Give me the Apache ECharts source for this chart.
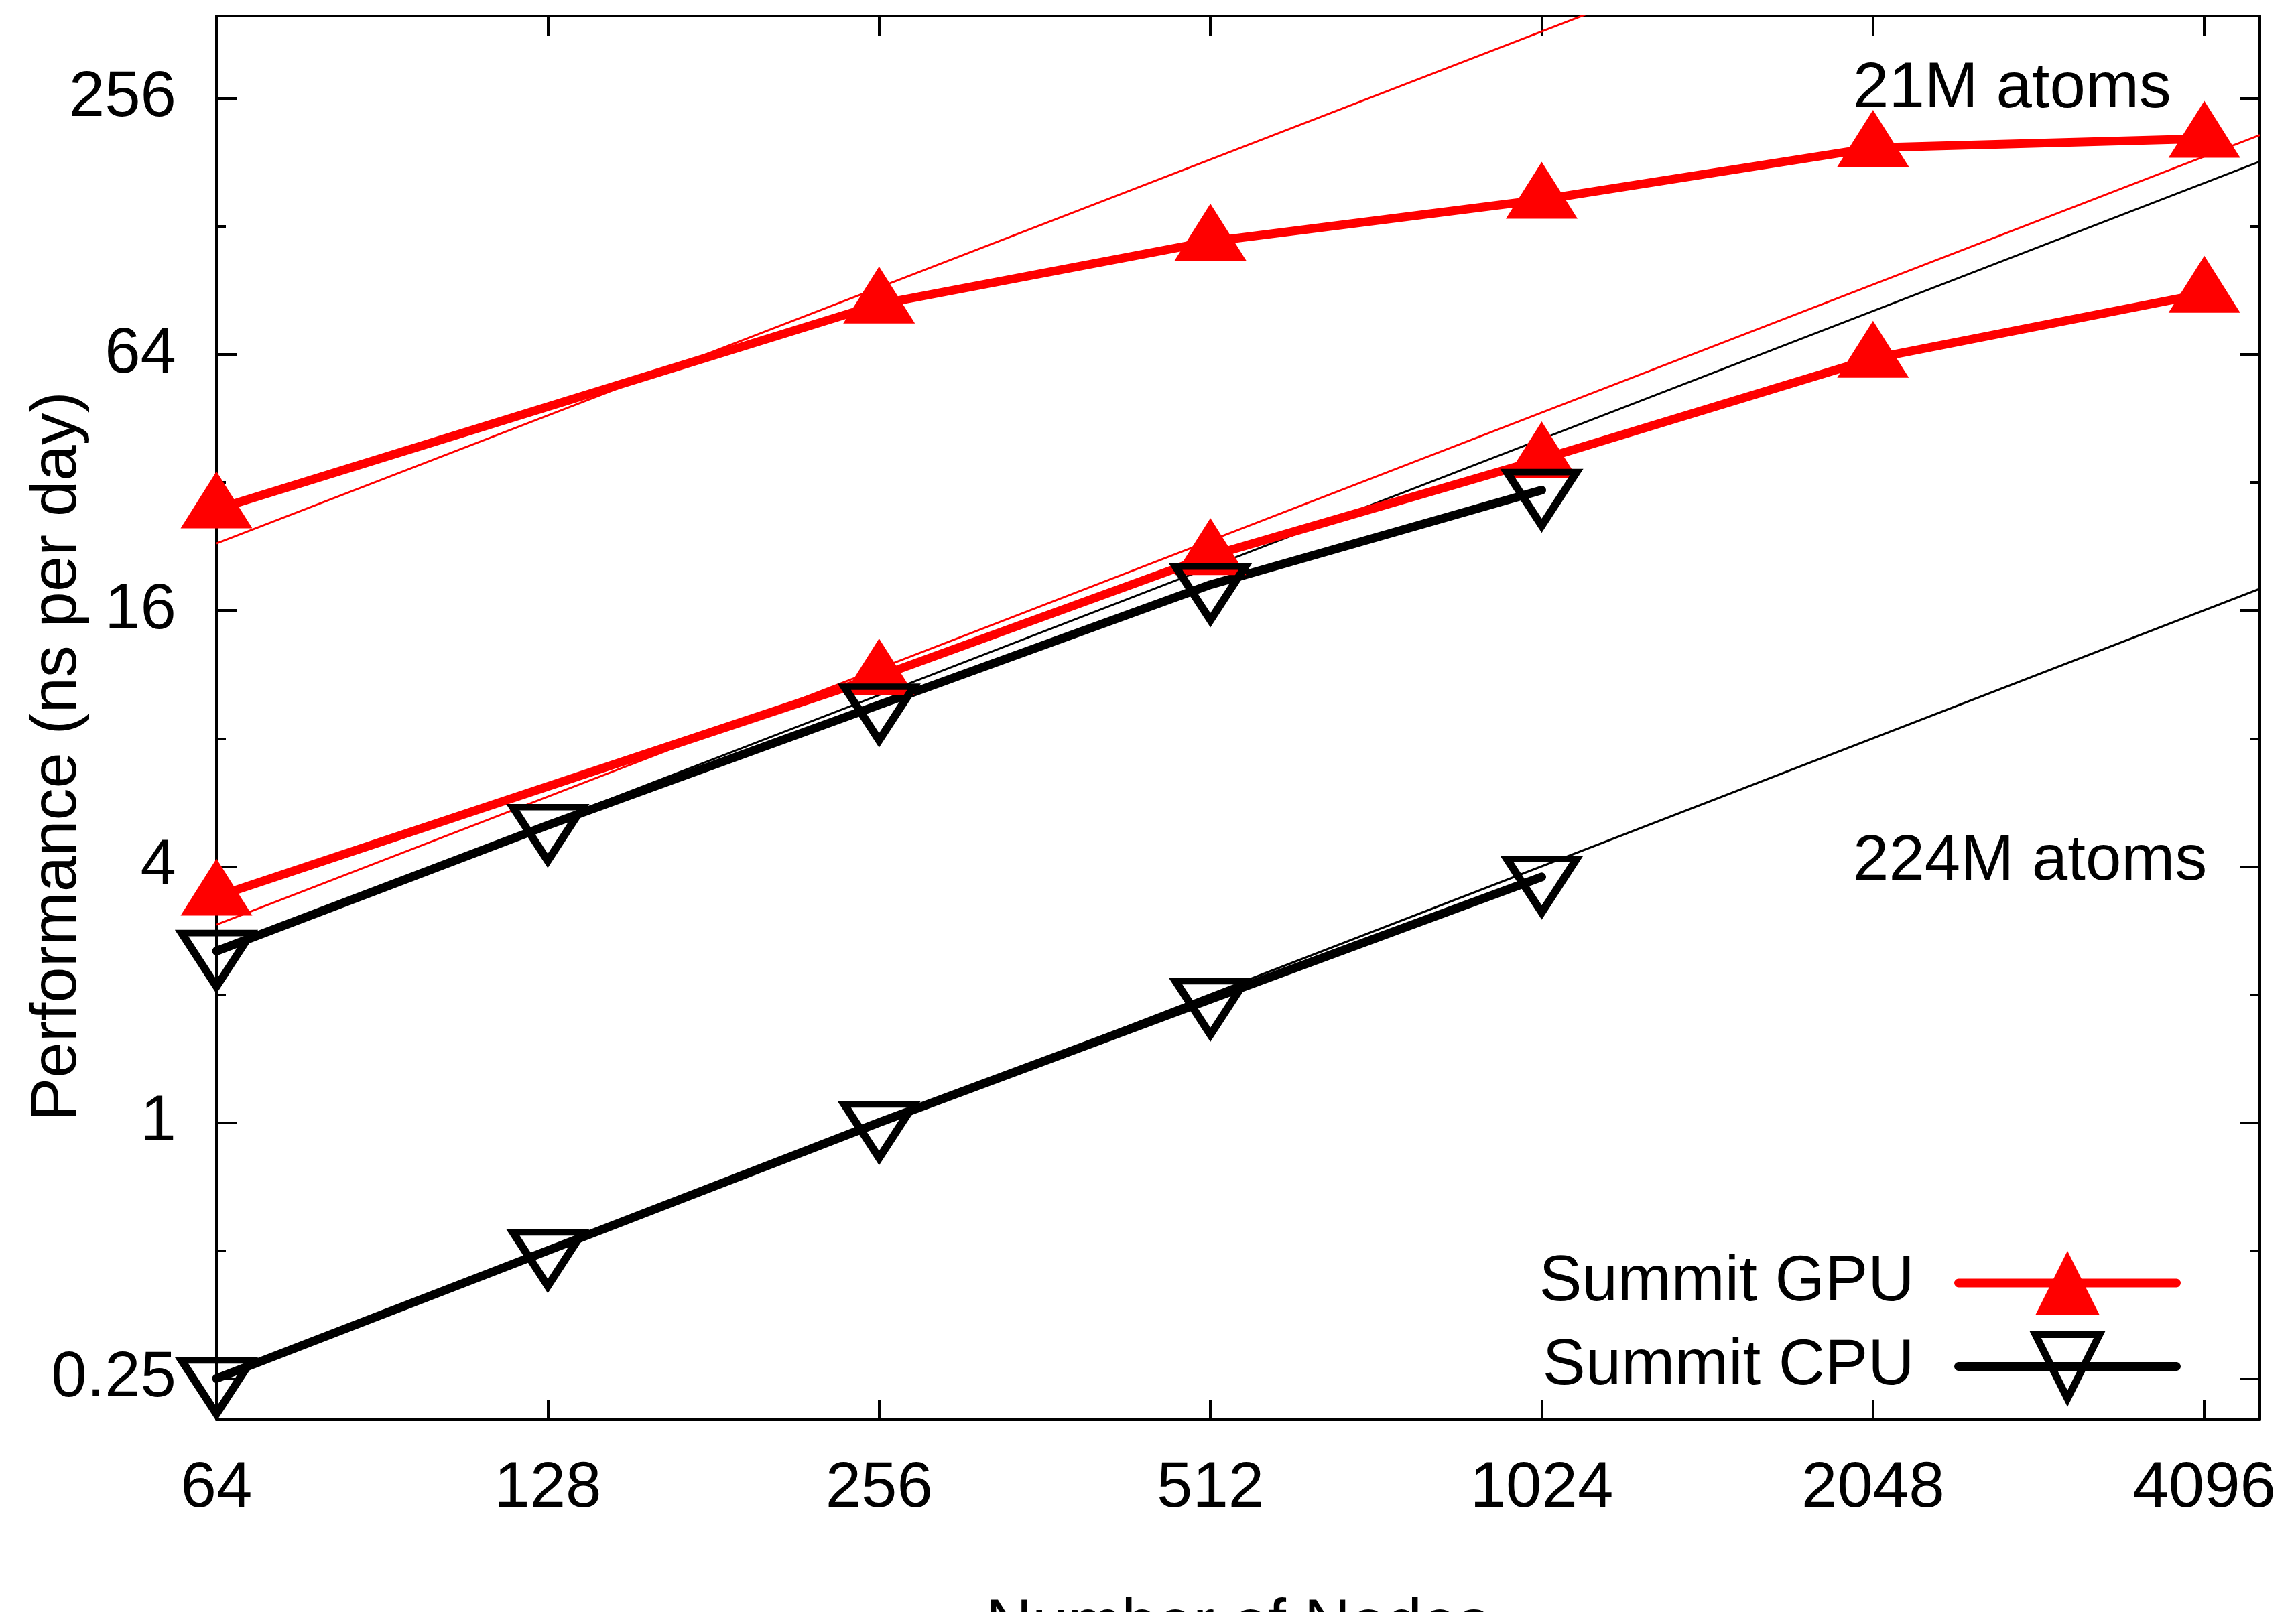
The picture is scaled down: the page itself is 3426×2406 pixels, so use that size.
<!DOCTYPE html>
<html><head><meta charset="utf-8">
<script src="https://cdn.jsdelivr.net/npm/echarts@6/dist/echarts.min.js"></script>
<style>html,body{margin:0;padding:0;background:#fff}#c{width:3426px;height:2406px}</style>
</head><body><div id="c"></div>
<script>
// ---- data ----
const nodeTicks = [64, 128, 256, 512, 1024, 2048, 4096];
const perfTicks = [0.25, 1, 4, 16, 64, 256];
const perfMinorTicks = [0.5, 2, 8, 32, 128];

const gpuNodes = [64, 256, 512, 1024, 2048, 4096];
const gpu21M  = [27.7, 84, 118, 148, 196, 206];
const gpu224M = [3.4, 11.2, 21.5, 36.3, 62.6, 89];

const cpuNodes = [64, 128, 256, 512, 1024];
const cpu21M  = [2.53, 5.0, 9.6, 18.4, 30.7];
const cpu224M = [0.25, 0.5, 1.0, 1.95, 3.78];

// thin ideal-scaling reference lines: value at left edge (64) and right edge (4600)
const idealNodes = [64, 4600];
const idealGpu21M  = [23, 1653];
const idealGpu224M = [2.92, 210];
const idealCpu21M  = [2.53, 182];
const idealCpu224M = [0.25, 18];

const annotations = ['21M atoms', '224M atoms'];
const legendNames = ['Summit GPU', 'Summit CPU'];
const xTitle = 'Number of Nodes';
const yTitle = 'Performance (ns per day)';

// ---- chart ----
const FONT = '"Liberation Sans", Arial, Helvetica, sans-serif';
const RED = '#ff0000', BLACK = '#000000';
const pair = (xs, ys) => xs.map((x, i) => [x, ys[i]]);

function xAx(pos, main) {
  return {
    type: 'log', logBase: 2, min: 64, max: 4600, position: pos,
    axisLine: {show: true, onZero: false, lineStyle: {color: BLACK, width: 4}},
    axisTick: {show: true, inside: true, length: 30, lineStyle: {color: BLACK, width: 4}, customValues: nodeTicks},
    axisLabel: {show: main, customValues: nodeTicks, formatter: v => String(v), fontSize: 96, fontFamily: FONT, color: BLACK, margin: 56},
    splitLine: {show: false}, minorTick: {show: false}, minorSplitLine: {show: false}
  };
}
function yAx(pos, ticks, len, main, showLine) {
  return {
    type: 'log', logBase: 2, min: 0.2, max: 400, position: pos,
    axisLine: {show: showLine, onZero: false, lineStyle: {color: BLACK, width: 4}},
    axisTick: {show: true, inside: true, length: len, lineStyle: {color: BLACK, width: 4}, customValues: ticks},
    axisLabel: {show: main, customValues: ticks, formatter: v => String(v), fontSize: 96, fontFamily: FONT, color: BLACK, margin: 60},
    splitLine: {show: false}, minorTick: {show: false}, minorSplitLine: {show: false},
    name: main ? yTitle : '', nameLocation: 'middle', nameGap: 188, nameRotate: 90, nameMoveOverlap: false,
    nameTextStyle: {fontSize: 96, fontFamily: FONT, color: BLACK, padding: [0, 114, 0, 0]}
  };
}
function thin(name, ys, color) {
  return {type: 'line', name, data: pair(idealNodes, ys), symbol: 'none', showSymbol: false,
    lineStyle: {color, width: 3}, z: 1, clip: true, silent: true};
}
function gpu(ys) {
  return {type: 'line', name: legendNames[0], data: pair(gpuNodes, ys),
    symbol: 'triangle', symbolSize: [107, 85], symbolOffset: [0, -14], showSymbol: true,
    itemStyle: {color: RED},
    lineStyle: {color: RED, width: 13, cap: 'round', join: 'round'}, z: 2, clip: false};
}
function cpu(ys) {
  return {type: 'line', name: legendNames[1], data: pair(cpuNodes, ys),
    symbol: 'triangle', symbolRotate: 180, symbolSize: [104, 80], symbolOffset: [0, 13], showSymbol: true,
    itemStyle: {color: 'rgba(0,0,0,0)', borderColor: BLACK, borderWidth: 11, borderJoin: 'miter'},
    lineStyle: {color: BLACK, width: 13, cap: 'round', join: 'round'}, z: 2, clip: false};
}

const chart = echarts.init(document.getElementById('c'), null, {renderer: 'canvas'});
chart.setOption({
  animation: false,
  backgroundColor: '#ffffff',
  grid: {left: 323, right: 54, top: 24, bottom: 287, containLabel: false, outerBoundsMode: 'none'},
  xAxis: [xAx('bottom', true), xAx('top', false)],
  yAxis: [
    yAx('left', perfTicks, 30, true, true),
    yAx('left', perfMinorTicks, 14, false, false),
    yAx('right', perfTicks, 30, false, true),
    yAx('right', perfMinorTicks, 14, false, false)
  ],
  legend: {
    data: [
      {name: legendNames[0]},
      {name: legendNames[1], itemStyle: {color: 'rgba(0,0,0,0)', borderColor: BLACK, borderWidth: 11}}
    ],
    orient: 'vertical', align: 'right', right: 172, top: 1867, padding: 0,
    itemWidth: 325, itemHeight: 120, itemGap: 23,
    lineStyle: {width: 13},
    textStyle: {fontSize: 96, fontFamily: FONT, color: BLACK, padding: [0, 61, 0, 0]},
    selectedMode: false
  },
  graphic: [
    {type: 'text', x: 2765, y: 134, style: {text: annotations[0], fill: BLACK, fontSize: 96, fontFamily: FONT, align: 'left', verticalAlign: 'middle'}},
    {type: 'text', x: 2765, y: 1287, style: {text: annotations[1], fill: BLACK, fontSize: 96, fontFamily: FONT, align: 'left', verticalAlign: 'middle'}},
    {type: 'text', x: 1847, y: 2428, style: {text: xTitle, fill: BLACK, fontSize: 96, fontFamily: FONT, align: 'center', verticalAlign: 'middle'}}
  ],
  series: [
    thin('ideal GPU 21M', idealGpu21M, RED),
    thin('ideal GPU 224M', idealGpu224M, RED),
    thin('ideal CPU 21M', idealCpu21M, BLACK),
    thin('ideal CPU 224M', idealCpu224M, BLACK),
    gpu(gpu21M),
    gpu(gpu224M),
    cpu(cpu21M),
    cpu(cpu224M)
  ]
});
</script>
</body></html>
